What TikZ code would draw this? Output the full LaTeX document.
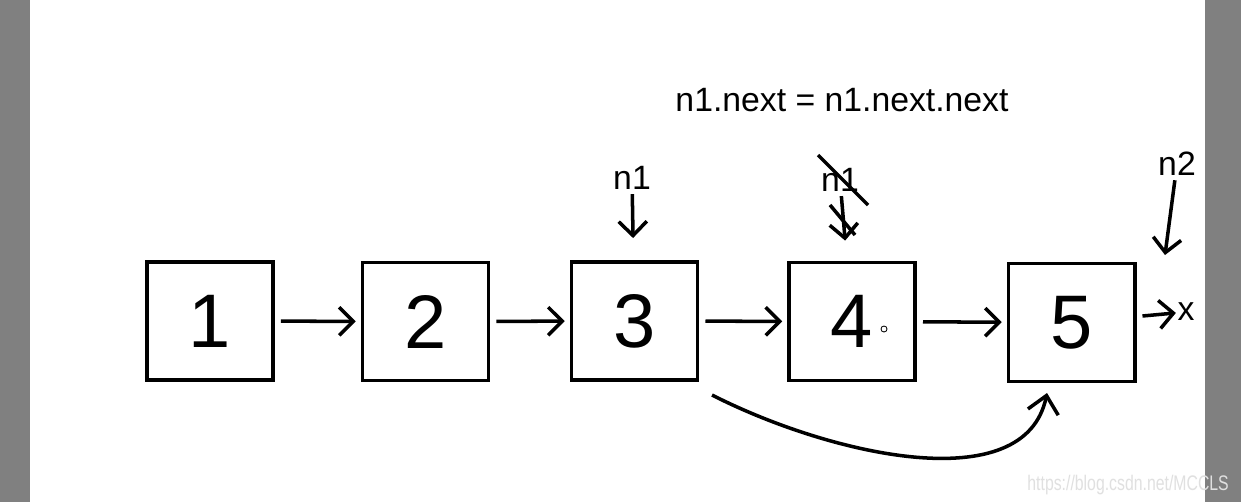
\documentclass[tikz,border=0pt]{standalone}
\usepackage{fontspec}
\setmainfont{Liberation Sans}
\usetikzlibrary{arrows.meta}
\tikzset{
  cell/.style={draw,line width=2.8pt,minimum width=3.15cm,minimum height=2.95cm,inner sep=0pt,font=\fontsize{54}{60}\selectfont},
  link/.style={line width=2.5pt,shorten <=0.15cm,shorten >=0.12cm,-{Straight Barb[length=10pt,width=20pt,line width=2.5pt]}},
  hand/.style={inner sep=1pt,font=\fontsize{24}{28}\selectfont}
}
\begin{document}
\begin{tikzpicture}[x=0.025cm,y=-0.025cm]
  \useasboundingbox (0,0) rectangle (1241,502);
  \fill[white] (0,0) rectangle (1241,502);
  \fill[black!50] (0,0) rectangle (30,502);
  \fill[black!50] (1205,0) rectangle (1241,502);
  % the list
  \node[cell] (b1) at (210,321) {1};
  \node[cell] (b2) at (425.5,321.5) {2};
  \node[cell] (b3) at (634.5,321) {3};
  \node[cell] (b4) at (852,321.5) {4};
  \node[cell] (b5) at (1071.5,322.5) {5};
  \node[hand] (nil) at (1186,312) {x};
  \draw[link] (b1) -- (b2);
  \draw[link] (b2) -- (b3);
  \draw[link] (b3) -- (b4);
  \draw[link] (b4) -- (b5);
  \draw[link,shorten >=0pt] (b5) -- (nil);
  \draw[line width=0.6pt] (884,329) circle (3);
  % pointers
  \node[hand] (p1) at (632,178) {n1};
  \draw[link,shorten <=2pt,shorten >=0.55cm] (p1) -- (b3);
  \node[hand] (p2) at (1177,164) {n2};
  \coordinate (end2) at (1165,255);
  \draw[link,shorten <=2pt,shorten >=0pt] (p2) -- (end2);
  \node[hand] (old) at (840,180) {n1};
  \draw[link,shorten <=2pt,shorten >=0.5cm] (old) -- (b4);
  \draw[line width=2.5pt] (818,155) -- (868,205);
  \draw[line width=2.5pt] (830,205) -- (855,235);
  % rewired link
  \node[hand] at (842,100) {n1.next = n1.next.next};
  \coordinate (cs) at (712,395);
  \coordinate (ce) at (1047,393);
  \draw[line width=2.5pt,-{Straight Barb[length=12pt,width=22pt,line width=2.5pt]}] (cs) .. controls (830,455) and (1025,500) .. (ce);
  \node[anchor=east,inner sep=0pt,xscale=0.75,text=black!12,font=\fontsize{15}{17}\selectfont] at (1229,485) {https://blog.csdn.net/MCCLS};
\end{tikzpicture}
\end{document}
